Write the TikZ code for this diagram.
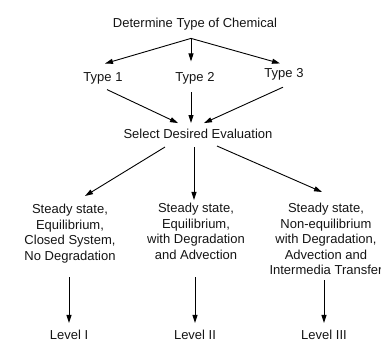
\documentclass[tikz,border=0pt]{standalone}
\usepackage{fontspec}
\setmainfont{Liberation Sans}
\usepackage{tikz}
\usetikzlibrary{arrows.meta,positioning,calc}
\definecolor{Ink}{RGB}{20,20,20}
\tikzset{
  lbl/.style={text=Ink, inner sep=1pt, font=\fontsize{13}{15.5}\selectfont, anchor=base},
  cond/.style={lbl, align=center, anchor=north},
  linkarr/.style={-{Triangle[length=8pt,width=5pt]}, draw=black, line width=0.9pt},
}

\begin{document}
\begin{tikzpicture}[x=1pt,y=1pt]
  \useasboundingbox (0,0) rectangle (381,342);
  \node[lbl] (chem) at (195,314.5) {Determine Type of Chemical};
  \node[lbl] (t1) at (103,260.3) {Type 1};
  \node[lbl] (t2) at (195,260.3) {Type 2};
  \node[lbl] (t3) at (284,264.3) {Type 3};
  \node[lbl] (sel) at (198,203.3) {Select Desired Evaluation};
  \node[cond] (c1) at (70,139) {Steady state,\\ Equilibrium,\\ Closed System,\\ No Degradation};
  \node[cond] (c2) at (196,140) {Steady state,\\ Equilibrium,\\ with Degradation\\ and Advection};
  \node[cond] (c3) at (326,140) {Steady state,\\ Non-equilibrium\\ with Degradation,\\ Advection and\\ Intermedia Transfer};
  \node[lbl] (lv1) at (69,2.2) {Level I};
  \node[lbl] (lv2) at (195,2.2) {Level II};
  \node[lbl] (lv3) at (324,2.2) {Level III};
  \draw[linkarr] ([shift={(-4,-7)}]chem.south) -- ([shift={(2,8)}]t1.north);
  \draw[linkarr] ([shift={(-4,-7)}]chem.south) -- ([shift={(-4,10)}]t2.north);
  \draw[linkarr] ([shift={(-4,-7)}]chem.south) -- ([shift={(-4,4)}]t3.north);
  \draw[linkarr] ([shift={(4,-4)}]t1.south) -- ([shift={(-20,5)}]sel.north);
  \draw[linkarr] ([shift={(-4,-6.6)}]t2.south) -- ([shift={(-7,5)}]sel.north);
  \draw[linkarr] ([shift={(-1,-5.6)}]t3.south) -- ([shift={(6,5)}]sel.north);
  \draw[linkarr] ([shift={(-33,-7)}]sel.south) -- ([shift={(15,7)}]c1.north);
  \draw[linkarr] ([shift={(-4,-7)}]sel.south) -- ([shift={(-2,2)}]c2.north);
  \draw[linkarr] ([shift={(19,-6)}]sel.south) -- ([shift={(-4,10)}]c3.north);
  \draw[linkarr] ([shift={(-1,-13.3)}]c1.south) -- ([yshift=6.3pt]lv1.north);
  \draw[linkarr] ([shift={(-1,-17)}]c2.south) -- ([yshift=6.3pt]lv2.north);
  \draw[linkarr] ([shift={(-2,-4.5)}]c3.south) -- ([yshift=6.3pt]lv3.north);
\end{tikzpicture}
\end{document}
